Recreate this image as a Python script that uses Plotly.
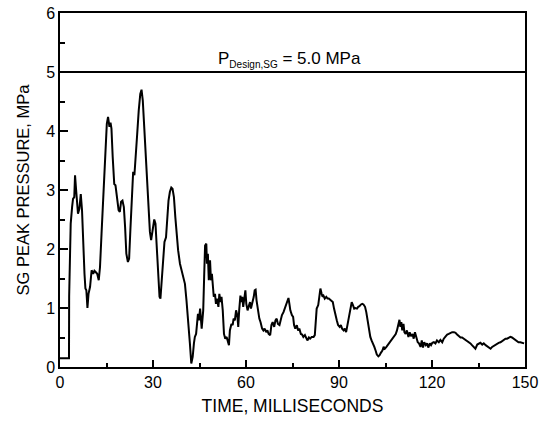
import plotly.graph_objects as go

# Time (ms) and SG peak pressure (MPa)
time_ms = [0, 2.9, 2.95, 3.45, 3.9, 4.2, 4.6, 4.85, 5.2, 5.5, 5.8, 6.25, 6.7, 7.1, 7.4, 7.9, 8.2, 8.5, 8.85, 9.2,
           9.7, 10.2, 10.7, 11.1, 11.5, 12.0, 12.5, 12.9, 13.4, 13.8, 14.2, 14.65, 15.1, 15.5, 15.95, 16.3, 16.6, 17.0,
           17.5, 17.9, 18.4, 18.9, 19.3, 19.7, 20.15, 20.6, 21.0, 21.4, 21.9, 22.3, 22.7, 23.2, 23.6, 24.0, 24.5,
           24.9, 25.4, 25.9, 26.3, 26.7, 27.2, 27.7, 28.1, 28.6, 29.0, 29.4, 29.85, 30.4, 30.8, 31.2, 31.7, 32.1,
           32.4, 32.9, 33.3, 33.7, 34.2, 34.6, 35.0, 35.45, 35.9, 36.3, 36.75, 37.2, 37.6, 38.1, 38.7, 39.2, 39.8,
           40.3, 40.8, 41.4, 41.9, 42.35, 42.8, 43.2, 43.5, 43.9, 44.2, 44.5, 44.8, 45.2, 45.7, 46.2, 46.5, 46.8,
           47.2, 47.4, 47.7, 48.0, 48.4, 48.7, 49.0, 49.3, 49.6, 50.0, 50.3, 50.6, 51.1, 51.4, 51.8, 52.1, 52.5,
           52.9, 53.3, 53.75, 54.2, 54.5, 54.8, 55.3, 55.7, 56.0, 56.4, 56.8, 57.2, 57.5, 57.8, 58.2, 58.5, 58.8,
           59.1, 59.5, 59.8, 60.1, 60.5, 61.0, 61.3, 61.6, 62.0, 62.5, 62.8, 63.1, 63.4, 63.9, 64.3, 64.7, 65.2,
           65.6, 66.0, 66.5, 66.9, 67.3, 67.8, 68.2, 68.6, 69.1, 69.5, 69.9, 70.3, 70.8, 71.2, 71.6, 72.1, 72.5,
           72.9, 73.4, 73.7, 74.0, 74.3, 74.8, 75.2, 75.5, 75.9, 76.4, 76.8, 77.2, 77.7, 78.1, 78.5, 79.0, 79.4,
           79.8, 80.3, 80.7, 81.2, 81.8, 82.2, 82.5, 82.8, 83.3, 83.7, 84.0, 84.4, 84.7, 85.0, 85.4, 85.9, 86.3,
           86.7, 87.1, 87.6, 88.0, 88.4, 88.9, 89.3, 89.7, 90.2, 90.6, 91.0, 91.5, 91.9, 92.3, 92.8, 93.2, 93.6,
           94.1, 94.5, 94.9, 95.3, 95.8, 96.2, 96.6, 97.1, 97.5, 97.9, 98.4, 98.8, 99.2, 99.7, 100.1, 100.5, 101.0,
           101.4, 101.8, 102.2, 102.7, 103.1, 103.5, 104.0, 104.4, 104.8, 105.3, 105.7, 106.1, 106.6, 107.0, 107.4,
           107.9, 108.3, 108.7, 109.1, 109.5, 109.8, 110.1, 110.4, 110.8, 111.1, 111.5, 111.9, 112.4, 112.8, 113.2,
           113.7, 114.1, 114.5, 115.0, 115.4, 115.8, 116.3, 116.7, 117.1, 117.5, 118.0, 118.4, 118.8, 119.3, 119.7,
           120.1, 120.6, 121.1, 121.6, 122.2, 122.7, 123.3, 123.8, 124.4, 124.9, 125.4, 126.0, 126.5, 127.1, 127.6,
           128.1, 128.6, 129.2, 129.7, 130.3, 130.8, 131.3, 131.9, 132.4, 132.9, 133.5, 134.0, 134.6, 135.1, 135.6,
           136.2, 136.7, 137.3, 137.8, 138.3, 138.9, 139.4, 139.9, 140.5, 141.0, 141.5, 142.1, 142.6, 143.1, 143.7,
           144.2, 144.7, 145.3, 145.8, 146.3, 146.9, 147.4, 147.9, 148.5, 149.0, 149.7]
pressure_mpa = [0.15, 0.15, 1.2, 2.43, 2.71, 2.85, 2.88, 3.25, 3.0, 2.71, 2.6, 2.68, 2.93, 2.66, 2.15, 1.58, 1.33, 1.3,
                1.0, 1.24, 1.36, 1.64, 1.58, 1.63, 1.61, 1.58, 1.47, 1.69, 2.26, 2.74, 3.0, 3.67, 4.12, 4.24, 4.07,
                4.14, 4.04, 3.56, 3.1, 3.08, 2.88, 2.66, 2.63, 2.8, 2.82, 2.71, 2.37, 1.92, 1.78, 1.84, 2.32, 3.0,
                3.31, 3.25, 3.56, 3.95, 4.35, 4.63, 4.7, 4.52, 4.04, 3.56, 3.19, 2.77, 2.29, 2.15, 2.32, 2.5, 2.43,
                1.98, 1.47, 1.19, 1.16, 1.53, 1.98, 2.12, 2.2, 2.6, 2.82, 2.97, 3.04, 3.02, 2.88, 2.54, 2.26, 1.98,
                1.75, 1.64, 1.53, 1.41, 1.13, 0.79, 0.40, 0.06, 0.17, 0.4, 0.51, 0.56, 0.79, 0.9, 0.79, 0.99, 0.65,
                0.96, 1.53, 2.06, 2.09, 1.75, 1.92, 1.47, 1.81, 1.47, 1.58, 1.27, 1.19, 1.24, 1.07, 1.16, 1.02, 1.24,
                1.10, 1.19, 0.96, 0.56, 0.48, 0.51, 0.42, 0.37, 0.62, 0.73, 0.71, 0.82, 0.79, 0.96, 0.88, 0.68, 0.96,
                1.21, 1.10, 1.19, 1.02, 1.21, 1.30, 1.07, 0.96, 1.05, 1.10, 0.99, 1.07, 1.19, 1.30, 1.31, 1.13, 0.90,
                0.82, 0.76, 0.65, 0.62, 0.65, 0.59, 0.62, 0.56, 0.54, 0.71, 0.76, 0.68, 0.79, 0.82, 0.73, 0.71, 0.82,
                0.88, 0.93, 0.99, 1.05, 1.13, 1.17, 1.07, 0.96, 0.88, 0.85, 0.71, 0.65, 0.71, 0.62, 0.65, 0.56, 0.55,
                0.51, 0.54, 0.48, 0.45, 0.50, 0.48, 0.51, 0.51, 0.54, 0.85, 0.99, 1.05, 1.19, 1.33, 1.24, 1.19, 1.21,
                1.16, 1.19, 1.16, 1.16, 1.14, 1.13, 1.10, 0.99, 0.85, 0.79, 0.71, 0.68, 0.71, 0.65, 0.62, 0.65, 0.59,
                0.73, 0.90, 1.02, 1.10, 1.05, 0.99, 1.00, 0.99, 1.02, 1.03, 1.06, 1.07, 1.06, 1.02, 0.93, 0.79, 0.62,
                0.51, 0.45, 0.40, 0.34, 0.28, 0.21, 0.18, 0.20, 0.24, 0.28, 0.34, 0.31, 0.34, 0.37, 0.40, 0.44, 0.48,
                0.51, 0.54, 0.56, 0.62, 0.71, 0.80, 0.68, 0.76, 0.62, 0.73, 0.59, 0.56, 0.62, 0.51, 0.59, 0.52, 0.56,
                0.48, 0.59, 0.51, 0.42, 0.40, 0.34, 0.45, 0.33, 0.42, 0.37, 0.40, 0.33, 0.40, 0.37, 0.41, 0.42, 0.40,
                0.45, 0.42, 0.46, 0.42, 0.48, 0.52, 0.55, 0.56, 0.58, 0.59, 0.59, 0.58, 0.55, 0.52, 0.50, 0.50, 0.48,
                0.46, 0.45, 0.42, 0.40, 0.37, 0.33, 0.31, 0.38, 0.40, 0.41, 0.38, 0.40, 0.37, 0.35, 0.33, 0.31, 0.34,
                0.36, 0.38, 0.40, 0.41, 0.42, 0.44, 0.45, 0.48, 0.48, 0.50, 0.51, 0.50, 0.48, 0.46, 0.45, 0.42, 0.42,
                0.41, 0.40]

design_pressure = 5.0
x_ticks = [0, 30, 60, 90, 120, 150]
y_ticks = [0, 1, 2, 3, 4, 5, 6]

FONT = "Liberation Sans, Arial, sans-serif"

fig = go.Figure()
fig.add_trace(go.Scatter(x=time_ms, y=pressure_mpa, mode="lines",
                         line=dict(color="black", width=2), showlegend=False))
fig.add_trace(go.Scatter(x=[0, 150], y=[design_pressure, design_pressure], mode="lines",
                         line=dict(color="black", width=2), showlegend=False))

fig.add_annotation(x=74, y=design_pressure, xref="x", yref="y", yanchor="bottom", yshift=0,
                   text="P<sub><span style='font-size:10px'>Design,SG</span></sub> = 5.0 MPa", showarrow=False,
                   font=dict(family=FONT, size=17, color="black"))

axis_common = dict(showgrid=False, zeroline=False, showline=True, linecolor="black", linewidth=1.5,
                   mirror=True, ticks="inside", tickcolor="black", tickwidth=1.5, automargin=False,
                   tickfont=dict(family=FONT, size=16, color="black"))

fig.update_xaxes(range=[0, 150], tickvals=x_ticks, ticklen=7,
                 minor=dict(dtick=15, ticks="inside", ticklen=4, tickcolor="black", tickwidth=1.5),
                 title=dict(text="TIME, MILLISECONDS", font=dict(family=FONT, size=17.5, color="black"), standoff=10),
                 **axis_common)
fig.update_yaxes(range=[0, 6], tickvals=y_ticks, ticklen=8,
                 minor=dict(dtick=0.5, ticks="inside", ticklen=5, tickcolor="black", tickwidth=1.5),
                 title=dict(text="SG PEAK PRESSURE, MPa", font=dict(family=FONT, size=16.5, color="black"), standoff=12),
                 **axis_common)

fig.update_layout(width=539, height=421, margin=dict(l=60, r=14, t=13, b=54),
                  paper_bgcolor="white", plot_bgcolor="white",
                  font=dict(family=FONT, color="black"))

fig.write_html("out.html", config={"displayModeBar": False},
               post_script="document.body.style.margin='0px';document.body.style.overflow='hidden';")
